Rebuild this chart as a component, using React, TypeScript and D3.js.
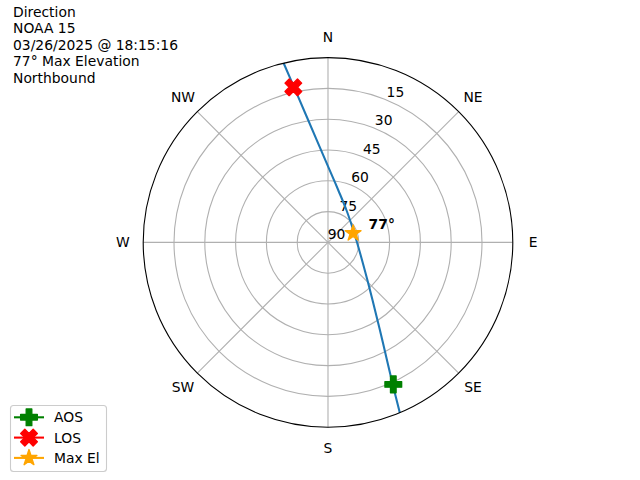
import React from "react";
import * as d3 from "d3";

// ---- data ----
const titleLines = ["Direction", "NOAA 15", "03/26/2025 @ 18:15:16", "77° Max Elevation", "Northbound"];
const trackAz = [157.13, 155.49, 153.72, 149.36, 142.31, 133.67, 113.37, 70.27, 29.59, 11.02, 0.7, 350.2, 347.67, 346.09];
const trackEl = [0, 14.05, 24.33, 40.41, 54.55, 63.48, 72.44, 76.44, 71.85, 64.0, 53.91, 27.03, 12.68, 0];
const aosPoint = { az: 155.3, el: 13.9 };
const losPoint = { az: 347.4, el: 12.6 };
const maxElPoint = { az: 70, el: 77 };
const maxElLabel = "77°";
const elevationTicks = [90, 75, 60, 45, 30, 15];
const ringElevations = [75, 60, 45, 30, 15];
const compassLabels = ["N", "NE", "E", "SE", "S", "SW", "W", "NW"];
const compassAngles = [0, 45, 90, 135, 180, 225, 270, 315];
const legendLabels = ["AOS", "LOS", "Max El"];

// ---- layout ----
const W = 640, H = 480;
const CX = 328, CY = 242.4, R = 184.8;
const FONT = "'DejaVu Sans', sans-serif";
const FS = 13.89;
const MS = 16.67; // marker size px
const COLORS = { line: "#1f77b4", aos: "#008000", los: "#ff0000", max: "#ffa500", grid: "#b0b0b0" };

const rScale = d3.scaleLinear().domain([90, 0]).range([0, R]);
const toRad = (deg: number) => (deg * Math.PI) / 180;
const pt = (az: number, r: number): [number, number] => [CX + r * Math.sin(toRad(az)), CY - r * Math.cos(toRad(az))];

const plusPath = (() => {
  const v = [[-1, -3], [1, -3], [1, -1], [3, -1], [3, 1], [1, 1], [1, 3], [-1, 3], [-1, 1], [-3, 1], [-3, -1], [-1, -1]];
  return "M" + v.map(([x, y]) => `${(x / 6) * MS},${(y / 6) * MS}`).join("L") + "Z";
})();
const xPath = (() => {
  const v = [[-1, -2], [0, -1], [1, -2], [2, -1], [1, 0], [2, 1], [1, 2], [0, 1], [-1, 2], [-2, 1], [-1, 0], [-2, -1]];
  return "M" + v.map(([x, y]) => `${(x / 4) * MS},${(y / 4) * MS}`).join("L") + "Z";
})();
const starPath = (() => {
  const pts: string[] = [];
  const ro = MS / 2, ri = ro * 0.381966;
  for (let i = 0; i < 10; i++) {
    const a = (i * Math.PI) / 5;
    const r = i % 2 === 0 ? ro : ri;
    pts.push(`${r * Math.sin(a)},${-r * Math.cos(a)}`);
  }
  return "M" + pts.join("L") + "Z";
})();

function Marker({ kind, x, y }: { kind: string; x: number; y: number }) {
  const d = kind === "aos" ? plusPath : kind === "los" ? xPath : starPath;
  const c = kind === "aos" ? COLORS.aos : kind === "los" ? COLORS.los : COLORS.max;
  return <path d={d} transform={`translate(${x},${y})`} fill={c} stroke={c} strokeWidth={1.39} strokeLinejoin="round" />;
}

export default function App() {
  const track = trackAz.map((az, i) => [toRad(az), rScale(trackEl[i])] as [number, number]);
  const lineGen = d3.lineRadial<[number, number]>().angle((d) => d[0]).radius((d) => d[1]).curve(d3.curveCatmullRom.alpha(0.5));
  const aos = pt(aosPoint.az, rScale(aosPoint.el));
  const los = pt(losPoint.az, rScale(losPoint.el));
  const mx = pt(maxElPoint.az, rScale(maxElPoint.el));
  const la = toRad(22.5);
  const legendKinds = ["aos", "los", "max"];
  const legendColors = [COLORS.aos, COLORS.los, COLORS.max];

  return (
    <svg width={W} height={H} style={{ display: "block", position: "absolute", left: 0, top: 0 }} fontFamily={FONT} fontSize={FS}>
      <rect width={W} height={H} fill="#fff" />
      {/* title */}
      {titleLines.map((t, i) => (
        <text key={t} x={13} y={16.6 + i * 16.5} fill="#000">{t}</text>
      ))}
      {/* grid */}
      <g stroke={COLORS.grid} strokeWidth={1.1} fill="none">
        {ringElevations.map((e) => (
          <circle key={e} cx={CX} cy={CY} r={rScale(e)} />
        ))}
        {compassAngles.map((a) => {
          const [x, y] = pt(a, R);
          return <line key={a} x1={CX} y1={CY} x2={x} y2={y} />;
        })}
      </g>
      {/* radial tick labels */}
      {elevationTicks.map((e) => {
        const r = rScale(e);
        const x = CX + r * Math.sin(la) + 8.5;
        const y = CY - r * Math.cos(la) - 8.2;
        return (
          <text key={e} x={x} y={y + 5} textAnchor="middle" fill="#000">{e}</text>
        );
      })}
      {/* compass labels */}
      {compassLabels.map((lab, i) => {
        const [x, y] = pt(compassAngles[i], R + 20.3);
        return (
          <text key={lab} x={x} y={y + 5} textAnchor="middle" fill="#000">{lab}</text>
        );
      })}
      {/* track */}
      <path d={lineGen(track) || ""} transform={`translate(${CX},${CY})`} fill="none" stroke={COLORS.line} strokeWidth={2.08} />
      {/* outer spine */}
      <circle cx={CX} cy={CY} r={R} fill="none" stroke="#000" strokeWidth={1.1} />
      {/* markers */}
      <Marker kind="aos" x={aos[0]} y={aos[1]} />
      <Marker kind="los" x={los[0]} y={los[1]} />
      <Marker kind="max" x={mx[0]} y={mx[1]} />
      <text x={mx[0] + 15.5} y={mx[1] - 4} fontWeight="bold" fill="#000">{maxElLabel}</text>
      {/* legend */}
      <rect x={10.5} y={405.5} width={96} height={66} rx={3} fill="#fff" fillOpacity={0.8} stroke="#cccccc" strokeWidth={1.1} />
      {legendLabels.map((lab, i) => {
        const y = 417.3 + i * 20.3;
        return (
          <g key={lab}>
            <line x1={14} x2={44} y1={y} y2={y} stroke={legendColors[i]} strokeWidth={2.08} />
            <Marker kind={legendKinds[i]} x={29} y={y} />
            <text x={54} y={y + 5} fill="#000">{lab}</text>
          </g>
        );
      })}
    </svg>
  );
}
